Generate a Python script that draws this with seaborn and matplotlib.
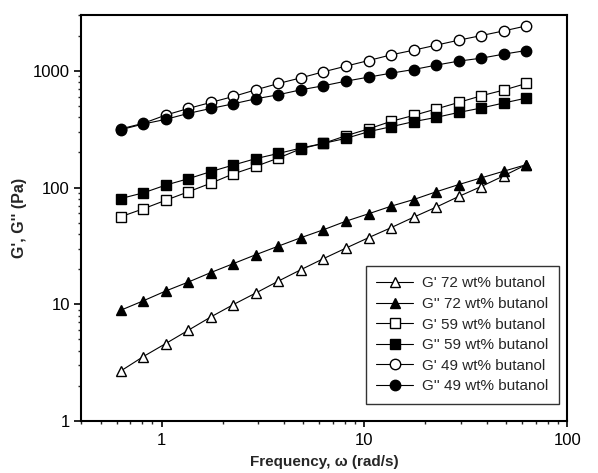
import matplotlib
matplotlib.use("Agg")
import matplotlib.pyplot as plt
import matplotlib.ticker as mticker
import numpy as np
import pandas as pd
import seaborn as sns

# angular frequency, rad/s
freq = [0.628, 0.811, 1.048, 1.353, 1.748, 2.257, 2.915, 3.765, 4.863, 6.28,
        8.11, 10.48, 13.53, 17.48, 22.57, 29.15, 37.65, 48.63, 62.8]

g1_72 = [2.68, 3.56, 4.61, 5.99, 7.79, 9.94, 12.5, 15.8, 19.8, 24.6,
         30.3, 37.2, 45.3, 55.7, 67.9, 83.8, 102, 126, 157]
g2_72 = [8.89, 10.7, 13.0, 15.5, 18.7, 22.3, 26.6, 31.5, 37.2, 43.5,
         51.5, 59.6, 69.2, 78.9, 91.9, 106, 121, 138, 157]
g1_59 = [56.2, 65.7, 77.9, 91.9, 109, 131, 152, 179, 215, 239,
         278, 318, 369, 415, 471, 536, 611, 684, 779]
g2_59 = [80.5, 90, 105, 119, 137, 156, 177, 196, 218, 239,
         264, 301, 332, 367, 399, 440, 480, 530, 584]
g1_49 = [318, 355, 418, 476, 536, 603, 688, 779, 871, 981,
         1097, 1225, 1370, 1503, 1659, 1830, 2004, 2198, 2425]
g2_49 = [313, 350, 384, 432, 476, 522, 576, 624, 688, 745,
         816, 883, 955, 1026, 1119, 1211, 1283, 1390, 1493]

labels = ["G' 72 wt% butanol", "G'' 72 wt% butanol",
          "G' 59 wt% butanol", "G'' 59 wt% butanol",
          "G' 49 wt% butanol", "G'' 49 wt% butanol"]
series = [g1_72, g2_72, g1_59, g2_59, g1_49, g2_49]
markers = ["^", "^", "s", "s", "o", "o"]
filled = [False, True, False, True, False, True]
msizes = [7.5, 7.5, 6.5, 6.5, 7.5, 7.5]

sns.set_theme(style="ticks")
plt.rcParams["font.family"] = ["Liberation Sans", "DejaVu Sans"]

fig = plt.figure(figsize=(5.98, 4.73), dpi=100)
ax = fig.add_axes([0.1355, 0.110, 0.813, 0.858])

for vals, lab, mk, fl, ms in zip(series, labels, markers, filled, msizes):
    df = pd.DataFrame({"freq": freq, "G": vals})
    sns.lineplot(data=df, x="freq", y="G", ax=ax, color="black", lw=0.8,
                 marker=mk, markersize=ms, markeredgecolor="black",
                 markeredgewidth=1.0,
                 markerfacecolor="black" if fl else "white", label=lab)

ax.set_xscale("log")
ax.set_yscale("log")
ax.set_xlim(0.4, 100)
ax.set_ylim(1, 3000)

ax.xaxis.set_major_formatter(mticker.FuncFormatter(lambda v, p: f"{v:g}"))
ax.yaxis.set_major_formatter(mticker.FuncFormatter(lambda v, p: f"{v:g}"))
ax.tick_params(axis="both", which="major", direction="out", width=1.2,
               labelsize=12, colors="black")
ax.tick_params(axis="x", which="major", length=4, pad=5)
ax.tick_params(axis="y", which="major", length=5, pad=3)
ax.tick_params(axis="both", which="minor", direction="out", length=2.5, width=1.0)
for sp in ax.spines.values():
    sp.set_linewidth(1.5)
    sp.set_color("black")

ax.set_xlabel("Frequency, ω (rad/s)", fontsize=11, fontweight="bold", labelpad=5)
ax.set_ylabel("G', G'' (Pa)", fontsize=11.5, fontweight="bold", labelpad=4)

leg = ax.legend(loc="lower right", bbox_to_anchor=(0.9835, 0.042), fontsize=11,
                frameon=True, fancybox=False, edgecolor="black",
                handlelength=2.4, labelspacing=0.43, borderpad=0.7,
                handletextpad=0.6, borderaxespad=0)
leg.get_frame().set_linewidth(1.0)
leg._legend_box.sep = 0

fig.savefig("out.png", dpi=100)
